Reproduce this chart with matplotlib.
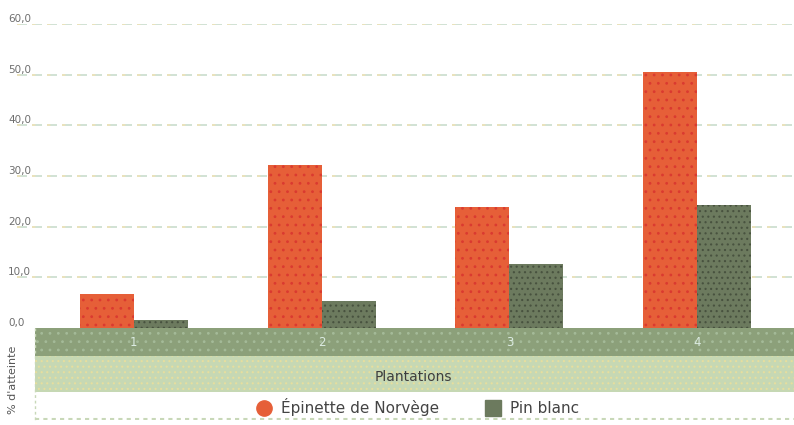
import matplotlib
matplotlib.use("Agg")
import matplotlib.pyplot as plt
import matplotlib.transforms as mtransforms
from matplotlib.patches import Rectangle
from matplotlib.lines import Line2D
import numpy as np

categories = ["1", "2", "3", "4"]
epinette = [6.7, 32.2, 23.9, 50.5]
pin_blanc = [1.6, 5.3, 12.6, 24.3]
yticks = [0, 10, 20, 30, 40, 50, 60]
ytick_labels = ["0,0", "10,0", "20,0", "30,0", "40,0", "50,0", "60,0"]
series_names = ["Épinette de Norvège", "Pin blanc"]
xlabel = "Plantations"
ylabel = "% d'atteinte"

W, H = 794, 425
ORANGE = "#E65F38"
DKGREEN = "#6C7A5E"
BAND = "#8CA07A"
LIGHTBAND = "#C6D8B4"

plt.rcParams['hatch.linewidth'] = 0.8
fig = plt.figure(figsize=(W/100, H/100), dpi=100)

def fx(px): return px / W
def fy(py): return 1 - py / H

ax = fig.add_axes([fx(17), fy(328), fx(794 - 17), (328 - 24) / H])
x = np.arange(len(categories))
spacing = 188.0
xl0 = 0 - (134 - 17) / spacing
xl1 = 3 + (794 - 697) / spacing
ax.set_xlim(xl0, xl1)
ax.set_ylim(0, 60)
w = 54 / spacing
for v in yticks:
    if v > 0:
        ax.axhline(v, color="#C9DDCD", lw=1.2, dashes=(6, 3), zorder=0)
        ax.axhline(v, color="#EFE3B8", lw=1.2, dashes=(2, 7), zorder=0)
ax.bar(x - w/2, epinette, width=w, color=ORANGE, edgecolor="#DA3A30", linewidth=0, hatch="..", zorder=2)
ax.bar(x + w/2, pin_blanc, width=w, color=DKGREEN, edgecolor="#48523F", linewidth=0, hatch="...", zorder=2)
for s in ax.spines.values():
    s.set_visible(False)
ax.set_xticks([])
ax.set_yticks([])
tr = mtransforms.blended_transform_factory(fig.transFigure, ax.transData)
for v, lab in zip(yticks, ytick_labels):
    ax.text(fx(8), v, lab, transform=tr, ha="left", va="bottom", fontsize=7.5, color="#6E6E6E")

bx = fig.add_axes([fx(35), fy(420), fx(794 - 35), (420 - 328) / H])
bx.set_xlim(0 - (134 - 35) / spacing, xl1)
bx.set_ylim(420, 328)
bx.axis("off")
bx.add_patch(Rectangle((-5, 328), 20, 28, facecolor=BAND, edgecolor="#A4BA98", hatch="..", linewidth=0))
bx.add_patch(Rectangle((-5, 356), 20, 36, facecolor=LIGHTBAND, edgecolor="#E6DE9E", hatch="...", linewidth=0))
bx.add_patch(Rectangle((-5, 392), 20, 28, facecolor="white", edgecolor="none"))
bx.axhline(419.5, color="#C8D8B8", lw=1.5, dashes=(2, 2))
for xi, c in zip(x, categories):
    bx.text(xi, 342, c, ha="center", va="center", fontsize=8.5, color="#DCEBE2")
bx.text((414 - 134) / spacing, 377, xlabel, ha="center", va="center", fontsize=10, color="#3E3E3E")

fig.text(fx(13), fy(380), ylabel, rotation=90, ha="center", va="center", fontsize=8, color="#555555")
fig.add_artist(Line2D([fx(35), fx(35)], [fy(328), fy(420)], transform=fig.transFigure,
                      color="#C8D8B8", lw=1, dashes=(2, 2)))

handles = [
    Line2D([], [], marker="o", linestyle="none", markersize=11, markerfacecolor=ORANGE, markeredgecolor=ORANGE),
    Line2D([], [], marker="s", linestyle="none", markersize=11, markerfacecolor=DKGREEN, markeredgecolor=DKGREEN),
]
fig.legend(handles, series_names, loc="center", bbox_to_anchor=(fx(414), fy(407)), ncol=2, frameon=False,
           fontsize=11, handletextpad=0.1, columnspacing=2.5, labelcolor="#444444")

fig.savefig("out.png", dpi=100)
